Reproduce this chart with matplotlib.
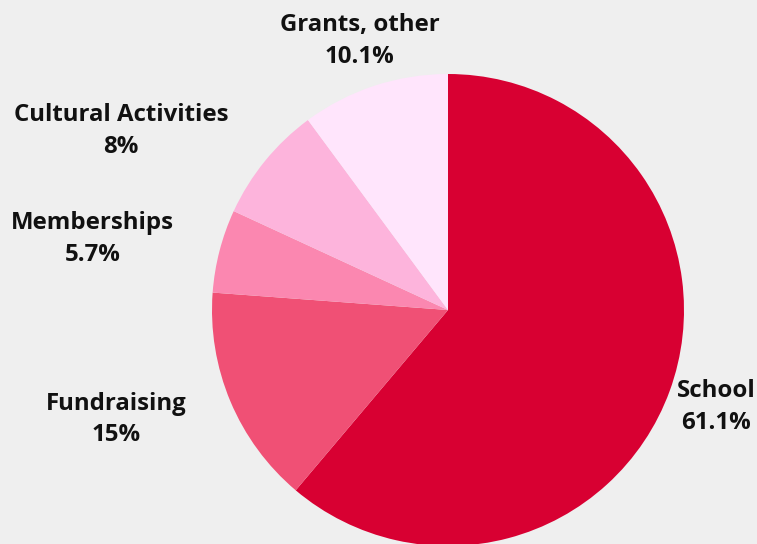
import numpy as np
import matplotlib
matplotlib.use('Agg')
import matplotlib.pyplot as plt

# data
categories = ['School', 'Fundraising', 'Memberships', 'Cultural Activities', 'Grants, other']
shares = [61.1, 15, 5.7, 8, 10.1]
pct_labels = ['61.1%', '15%', '5.7%', '8%', '10.1%']
colors = ['#d80032', '#f05075', '#fb87b0', '#fdb4dc', '#ffe5fc']
label_ha = ['center', 'right', 'right', 'right', 'center']

plt.rcParams['font.family'] = ['Open Sans', 'DejaVu Sans']

fig = plt.figure(figsize=(7.57, 5.44), dpi=100)
fig.patch.set_facecolor('#efefef')
ax = fig.add_axes([0, 0, 1, 1])
ax.set_facecolor('#efefef')

wedges, _ = ax.pie(shares, colors=colors, startangle=90, counterclock=False,
                   radius=1.0, wedgeprops=dict(linewidth=0))

for w, name, pct, ha in zip(wedges, categories, pct_labels, label_ha):
    ang = np.deg2rad((w.theta1 + w.theta2) / 2)
    x = 1.2 * np.cos(ang)
    y = 1.2 * np.sin(ang)
    if name == 'School':
        x += 0.01
    ax.text(x, y, name + '\n' + pct, ha=ha, va='center', multialignment='center',
            fontsize=17.3, fontweight='bold', color='#111111', linespacing=1.42)

# pie centre sits at (448, 310) px from top-left, radius 236 px
ax.set_xlim(-448 / 236, (757 - 448) / 236)
ax.set_ylim(-(544 - 310) / 236, 310 / 236)
ax.set_aspect('auto')
ax.axis('off')

fig.savefig('out.png', dpi=100, facecolor=fig.get_facecolor())
